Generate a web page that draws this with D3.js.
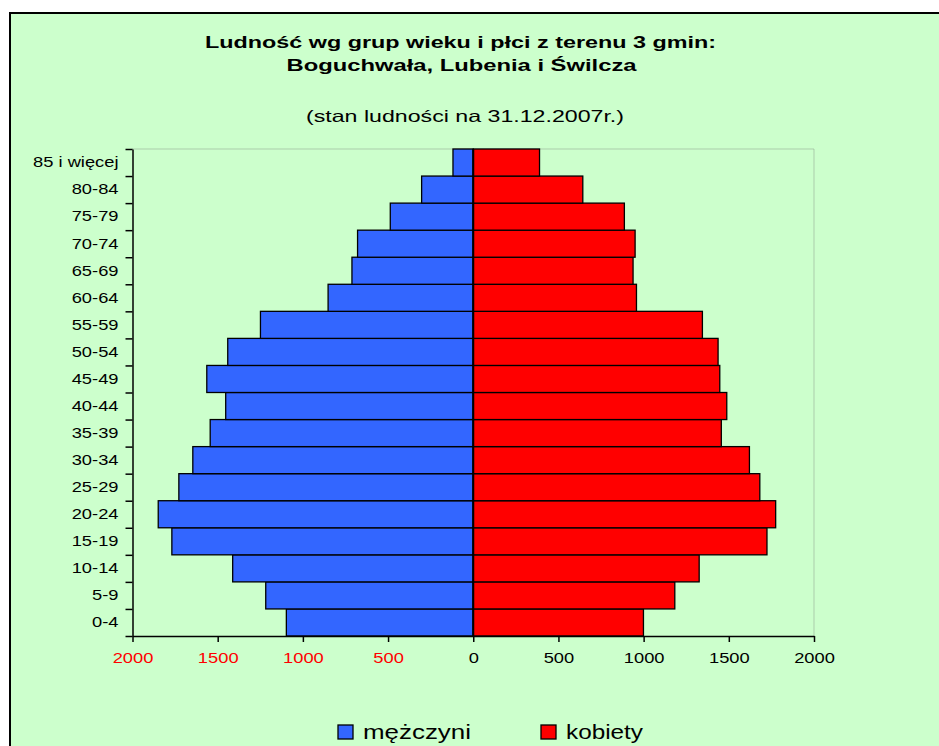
<!DOCTYPE html>
<html>
<head>
<meta charset="utf-8">
<script src="https://cdn.jsdelivr.net/npm/d3@7"></script>
<style>
  html, body { margin: 0; padding: 0; background: #ffffff; }
  svg { display: block; font-family: "Liberation Sans", Arial, sans-serif; }
</style>
</head>
<body>
<svg id="chart" width="939" height="746"></svg>
<script>
// ---- data (bottom to top) ----
const categories = ["0-4","5-9","10-14","15-19","20-24","25-29","30-34","35-39","40-44","45-49",
                    "50-54","55-59","60-64","65-69","70-74","75-79","80-84","85 i więcej"];
const males   = [1097,1218,1412,1769,1849,1728,1646,1544,1453,1564,1441,1249,852,712,679,487,303,119];
const females = [999,1183,1326,1724,1775,1682,1621,1456,1488,1447,1437,1345,958,938,950,887,643,389];
const xTickValues = [-2000,-1500,-1000,-500,0,500,1000,1500,2000];
const seriesNames = ["mężczyni","kobiety"];
const titleLines = ["Ludność wg grup wieku i płci z terenu 3 gmin:", "Boguchwała, Lubenia i Świlcza"];
const subtitle = "(stan ludności na 31.12.2007r.)";

const colMale = "#3366FF", colFemale = "#FF0000", bg = "#CCFFCC";

const svg = d3.select("#chart");

// outer chart area
svg.append("rect").attr("x", 10).attr("y", 13).attr("width", 940).attr("height", 750)
  .attr("fill", bg).attr("stroke", "#000").attr("stroke-width", 2);

// plot geometry
const pL = 132.5, pR = 814, pT = 149, pB = 636;
const x = d3.scaleLinear().domain([-2000, 2000]).range([pL, pR]);
const y = d3.scaleBand().domain(categories.slice().reverse()).range([pT, pB]).padding(0);
const yIdx = d3.scaleLinear().domain([0, categories.length]).range([pB, pT]);

// plot area frame (dotted top/right)
svg.append("path")
  .attr("d", `M${pL},${pT}H${pR}V${pB}`)
  .attr("fill", "none").attr("stroke", "#8a9a8a").attr("stroke-width", 1)
  .attr("stroke-dasharray", "1,1");

const data = categories.map((c, i) => ({cat: c, m: males[i], f: females[i]}));

// bars
svg.append("g").selectAll("rect").data(data).join("rect")
  .attr("x", d => x(-d.m)).attr("y", d => y(d.cat))
  .attr("width", d => x(0) - x(-d.m)).attr("height", y.bandwidth())
  .attr("fill", colMale).attr("stroke", "#000").attr("stroke-width", 1.3);
svg.append("g").selectAll("rect").data(data).join("rect")
  .attr("x", x(0)).attr("y", d => y(d.cat))
  .attr("width", d => x(d.f) - x(0)).attr("height", y.bandwidth())
  .attr("fill", colFemale).attr("stroke", "#000").attr("stroke-width", 1.3);

// y axis: ticks at band boundaries
const yTicks = svg.append("g").attr("transform", `translate(${pL},0)`)
  .call(d3.axisLeft(yIdx).tickValues(d3.range(categories.length + 1))
        .tickFormat("").tickSize(7).tickSizeOuter(0));
yTicks.selectAll("path,line").attr("stroke", "#000").attr("stroke-width", 1.5);

function stretch(sel, k) {
  sel.each(function() {
    const w = this.getComputedTextLength();
    d3.select(this).attr("textLength", w * k).attr("lengthAdjust", "spacingAndGlyphs");
  });
}

// y labels
const yLab = svg.append("g").attr("transform", `translate(${pL},0)`)
  .call(d3.axisLeft(y).tickSize(0).tickPadding(14));
yLab.select(".domain").remove();
yLab.selectAll("text")
  .attr("font-family", "Liberation Sans, Arial, sans-serif")
  .attr("font-size", 15).attr("fill", "#000")
  .call(stretch, 1.22);

// x axis
const xAx = svg.append("g").attr("transform", `translate(0,${pB})`)
  .call(d3.axisBottom(x).tickValues(xTickValues).tickFormat(d => Math.abs(d)).tickSize(6).tickSizeOuter(0).tickPadding(10));
xAx.selectAll("path,line").attr("stroke", "#000").attr("stroke-width", 1.5);
xAx.selectAll("text")
  .attr("font-family", "Liberation Sans, Arial, sans-serif")
  .attr("font-size", 15)
  .attr("fill", d => d < 0 ? "#FF0000" : "#000")
  .call(stretch, 1.22);

// zero line emphasis
svg.append("line").attr("x1", x(0)).attr("x2", x(0)).attr("y1", pT).attr("y2", pB)
  .attr("stroke", "#000").attr("stroke-width", 2);

// titles
svg.append("text").attr("x", 460.5).attr("y", 48).attr("text-anchor", "middle")
  .attr("font-weight", "bold").attr("font-size", 16.5)
  .attr("textLength", 511).attr("lengthAdjust", "spacingAndGlyphs").text(titleLines[0]);
svg.append("text").attr("x", 461.5).attr("y", 71).attr("text-anchor", "middle")
  .attr("font-weight", "bold").attr("font-size", 16.5)
  .attr("textLength", 350).attr("lengthAdjust", "spacingAndGlyphs").text(titleLines[1]);
svg.append("text").attr("x", 465).attr("y", 122).attr("text-anchor", "middle")
  .attr("font-size", 16.5)
  .attr("textLength", 318).attr("lengthAdjust", "spacingAndGlyphs").text(subtitle);

// legend
const legend = [
  {name: seriesNames[0], color: colMale, sx: 338, tx: 363, tw: 108},
  {name: seriesNames[1], color: colFemale, sx: 541, tx: 566, tw: 77}
];
const lg = svg.append("g");
legend.forEach(l => {
  lg.append("rect").attr("x", l.sx).attr("y", 725).attr("width", 15).attr("height", 14)
    .attr("fill", l.color).attr("stroke", "#000").attr("stroke-width", 1.3);
  lg.append("text").attr("x", l.tx).attr("y", 739).attr("font-size", 20)
    .attr("textLength", l.tw).attr("lengthAdjust", "spacingAndGlyphs").text(l.name);
});
</script>
</body>
</html>
